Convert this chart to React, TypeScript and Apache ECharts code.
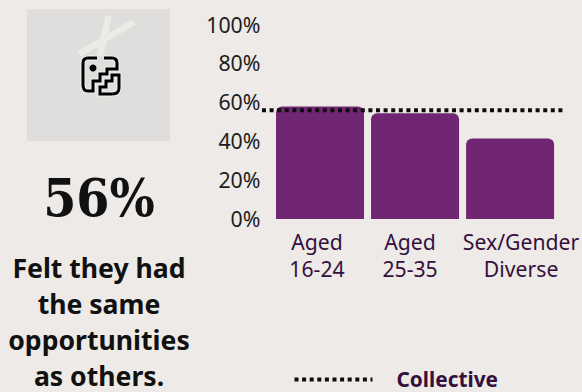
import React, { useEffect, useRef } from "react";
import * as echarts from "echarts";

const categories = ["Aged\n16-24", "Aged\n25-35", "Sex/Gender\nDiverse"];
const categoryLabelPadding = [
  [0, 6, 0, 0],
  [0, 10, 0, 0],
  [0, 0, 0, 22],
];
const groupValues = [58, 54.5, 41.5];
const collectiveValue = 56;
const collectiveName = "Collective";
const headline = "56%";
const caption = ["Felt they had", "the same", "opportunities", "as others."];

// Stairs pictogram: head outline plus the stepped block in its lower corner.
const iconPath =
  "M97 58H88Q83 58 83 63V85Q83 91 88 91H93V81H100V74H107V69H117V63Q117 58 112 58H104" +
  "M100 94H112Q119 94 119 88V75H112V81H106V87H100Z";
echarts.graphic.registerShape("stairsIcon", echarts.graphic.extendPath(iconPath, {}) as any);

const PAGE_BG = "#edeae7";
const BAR = "#712673";
const SANS = '"Noto Sans", sans-serif';
const DOTTED = { color: "#0d0d0d", width: 4, type: [4, 3.6] };

export default function App() {
  const ref = useRef<HTMLDivElement>(null);
  useEffect(() => {
    document.body.style.margin = "0";
    document.body.style.background = PAGE_BG;
    const chart = echarts.init(ref.current!, null, { renderer: "svg" });
    chart.setOption({
      animation: false,
      backgroundColor: PAGE_BG,
      grid: [
        { left: 272.5, right: 22.5, top: 25, bottom: 173 },
        { left: 262, right: 19, top: 25, bottom: 173 },
      ],
      xAxis: [
        {
          type: "category",
          gridIndex: 0,
          data: categories.map((value, i) => ({
            value,
            textStyle: { padding: categoryLabelPadding[i] },
          })),
          axisLine: { show: false },
          axisTick: { show: false },
          axisLabel: {
            interval: 0,
            margin: 9,
            fontFamily: SANS,
            fontSize: 21.2,
            lineHeight: 27,
            color: "#35103d",
            hideOverlap: false,
          },
        },
        { type: "value", gridIndex: 1, min: 0, max: 1, show: false },
      ],
      yAxis: [
        {
          type: "value",
          gridIndex: 0,
          min: 0,
          max: 100,
          interval: 20,
          axisLine: { show: false },
          axisTick: { show: false },
          splitLine: { show: false },
          axisLabel: {
            margin: 12,
            formatter: (v: number) => `{t|${v}%}`,
            rich: {
              t: {
                fontFamily: SANS,
                fontSize: 21.3,
                color: "#1c1c1c",
                padding: [0, 0, 2, 0],
              },
            },
          },
        },
        { type: "value", gridIndex: 1, min: 0, max: 100, show: false },
      ],
      legend: {
        left: 292.5,
        top: 368,
        padding: 0,
        itemWidth: 78,
        itemHeight: 24,
        itemStyle: { opacity: 0 },
        lineStyle: DOTTED,
        data: [collectiveName],
        formatter: (name: string) => `{k|${name}}`,
        textStyle: {
          rich: {
            k: {
              fontFamily: SANS,
              fontWeight: "bold",
              fontSize: 20.8,
              color: "#35103d",
              padding: [0, 0, 2, 19],
            },
          },
        },
      },
      series: [
        {
          type: "bar",
          xAxisIndex: 0,
          yAxisIndex: 0,
          data: groupValues,
          barWidth: 88,
          itemStyle: { color: BAR, borderRadius: [6, 6, 0, 0] },
          silent: true,
        },
        {
          type: "line",
          name: collectiveName,
          xAxisIndex: 1,
          yAxisIndex: 1,
          data: [
            [0, collectiveValue],
            [1, collectiveValue],
          ],
          symbol: "none",
          z: 5,
          lineStyle: DOTTED,
        },
      ],
      graphic: [
        { type: "rect", shape: { x: 27, y: 9, width: 143, height: 132 }, style: { fill: "#dfdedc" } },
        { type: "line", shape: { x1: 108.5, y1: 16, x2: 100, y2: 56 }, style: { stroke: "#ecebe8", lineWidth: 6.5 } },
        { type: "line", shape: { x1: 134, y1: 22, x2: 79, y2: 54 }, style: { stroke: "#ecebe8", lineWidth: 6.5 } },
        { type: "stairsIcon", style: { fill: "none", stroke: "#ecebe8", lineWidth: 5.5 } },
        { type: "stairsIcon", style: { fill: "none", stroke: "#000000", lineWidth: 3 } },
        { type: "circle", shape: { cx: 93, cy: 68, r: 3.5 }, style: { fill: "#000000" } },
        {
          type: "text",
          x: 99,
          y: 197,
          style: {
            text: headline,
            fontFamily: '"DejaVu Serif Condensed", "DejaVu Serif", serif',
            fontWeight: "bold",
            fontSize: 53,
            fill: "#111111",
            align: "center",
            verticalAlign: "middle",
          },
        },
        ...caption.map((line, i) => ({
          type: "text",
          x: 99,
          y: 268 + i * 36,
          style: {
            text: line,
            fontFamily: SANS,
            fontWeight: "bold",
            fontSize: 26.6,
            fill: "#111111",
            align: "center",
            verticalAlign: "middle",
          },
        })),
      ],
    });
    return () => chart.dispose();
  }, []);
  return <div ref={ref} style={{ width: 582, height: 392 }} />;
}
